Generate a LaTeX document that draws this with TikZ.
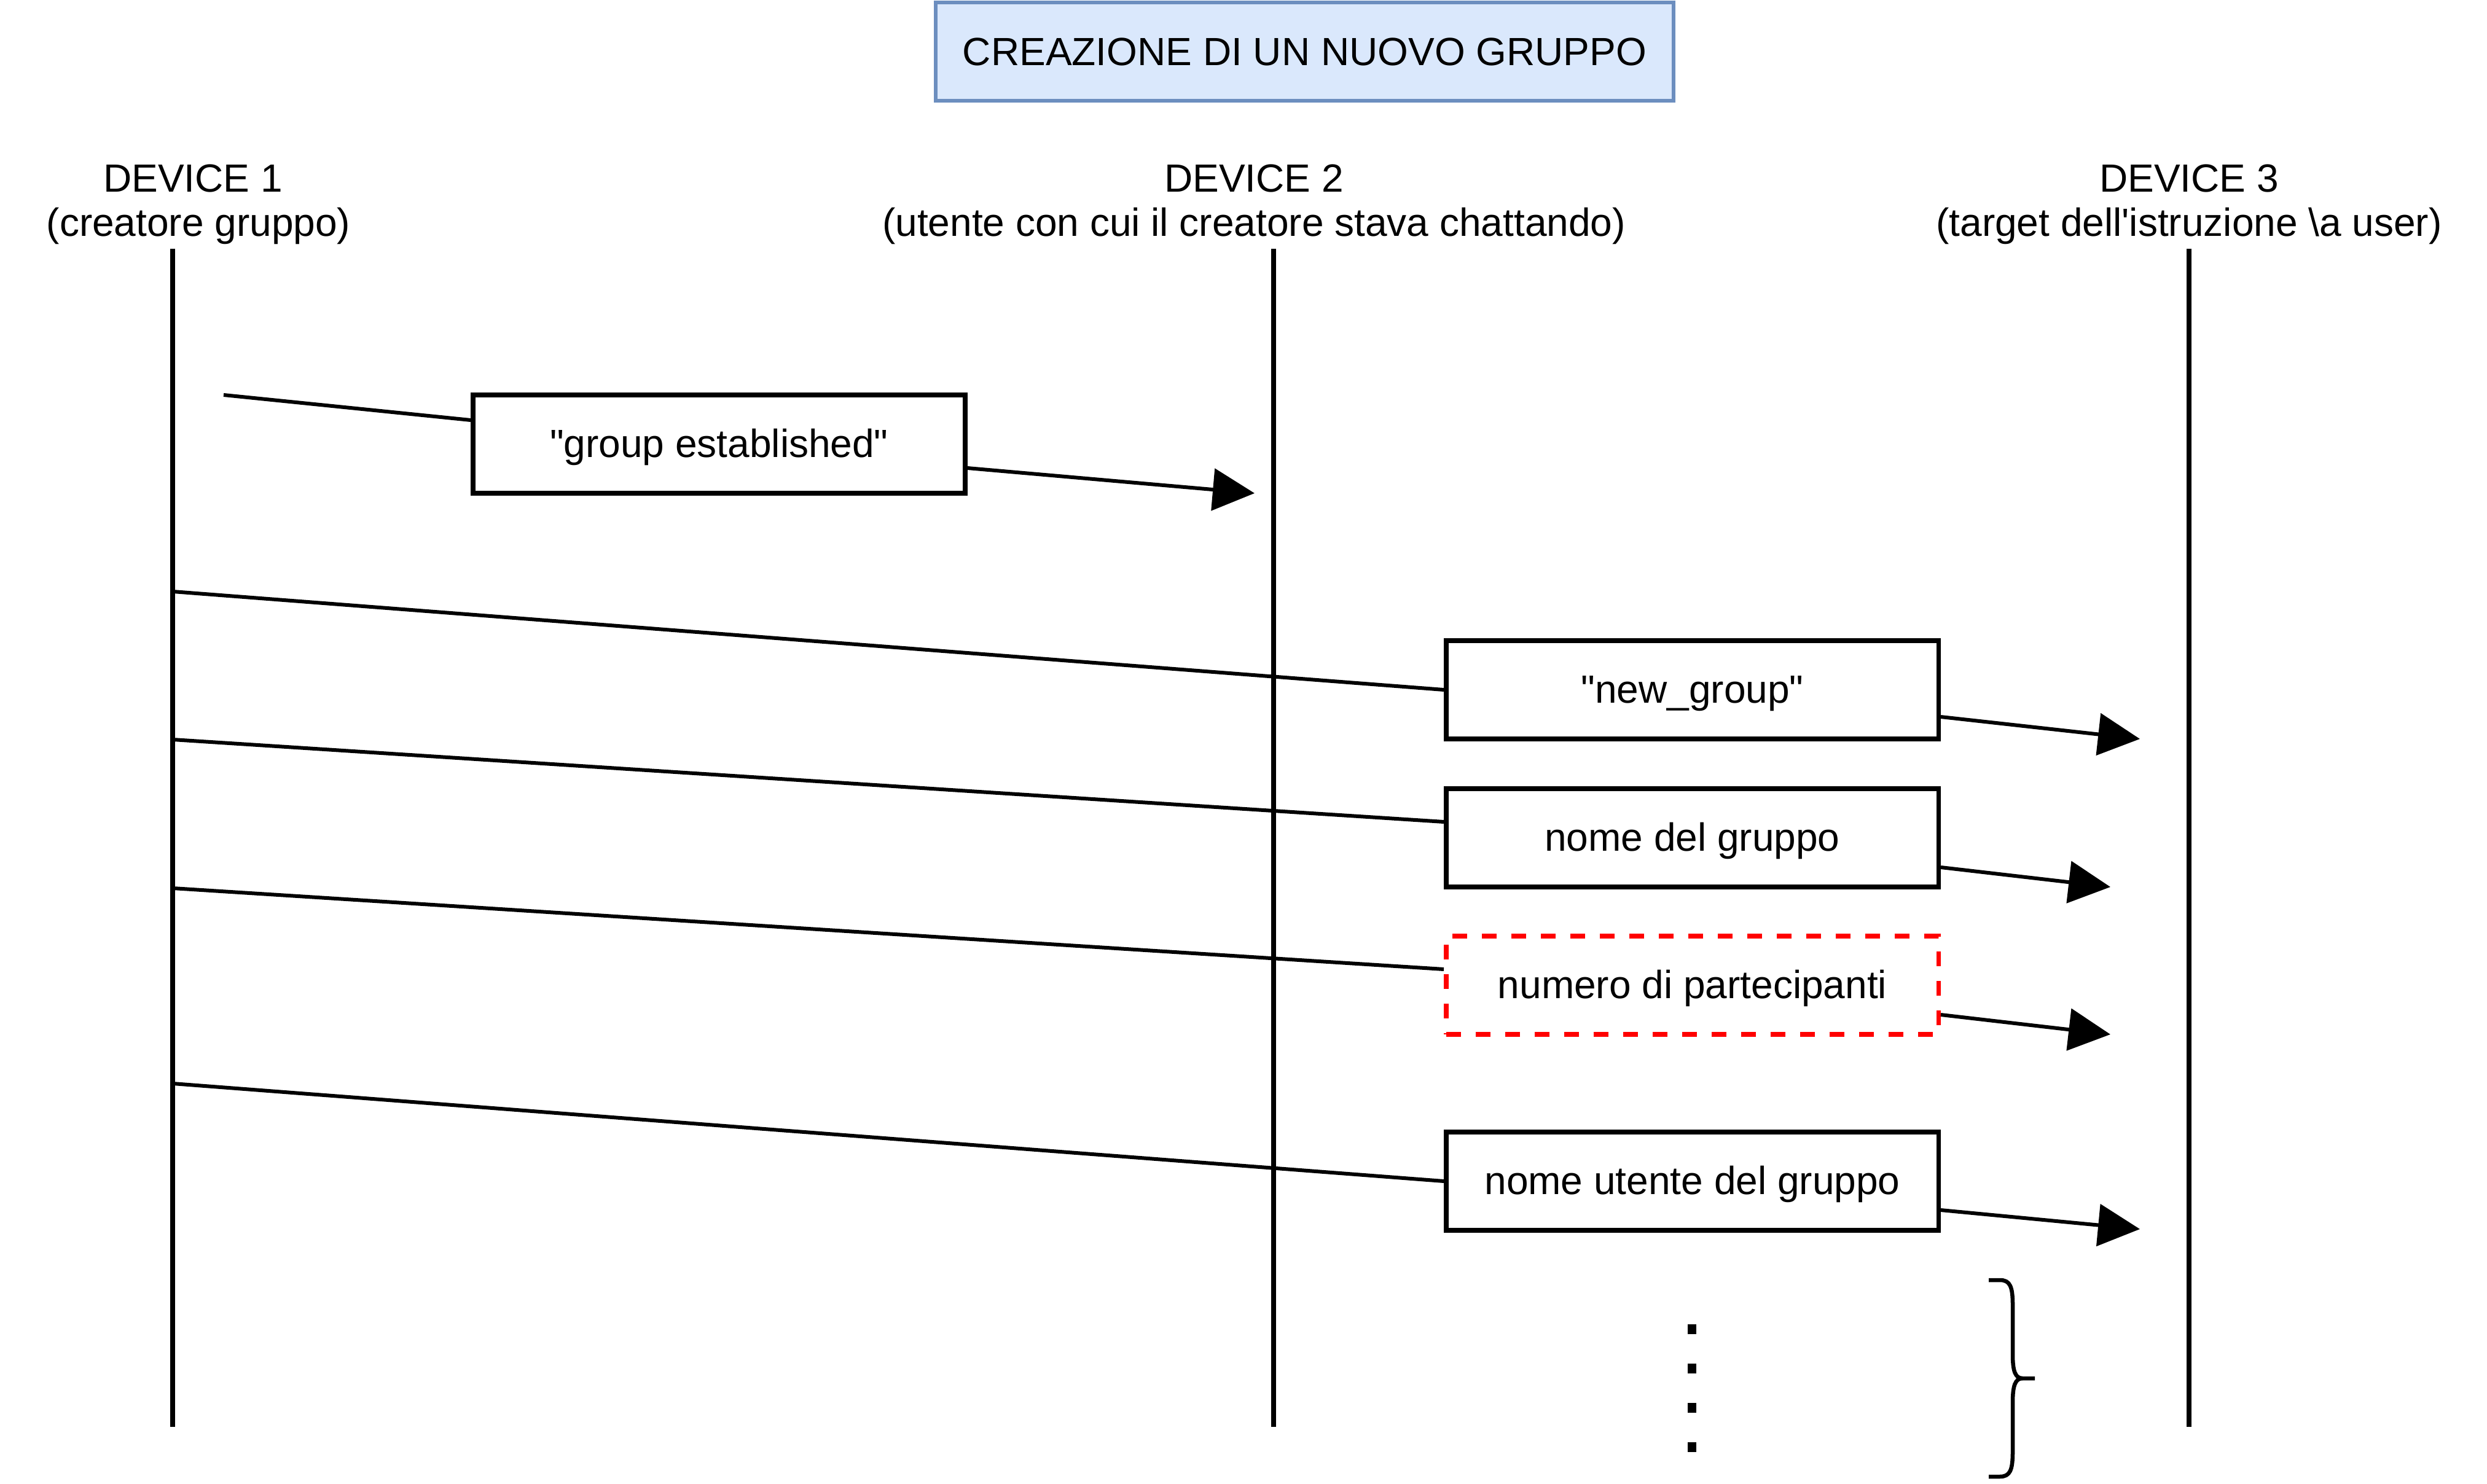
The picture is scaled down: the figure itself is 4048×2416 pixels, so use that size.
\documentclass[tikz,border=0pt]{standalone}
\usepackage{fontspec}
\newfontfamily\lsans{Liberation Sans}
\usetikzlibrary{arrows.meta}
\definecolor{titlefill}{HTML}{DAE8FC}
\definecolor{titledraw}{HTML}{6C8EBF}
\definecolor{dashred}{HTML}{FF0000}
\begin{document}
\begin{tikzpicture}[x=0.01cm,y=-0.01cm,
  every node/.style={font=\lsans\fontsize{18.2}{20.5}\selectfont},
  lifeline/.style={line width=0.08cm},
  msgline/.style={line width=0.06cm},
  msgarrow/.style={line width=0.06cm,-{Triangle[length=0.68cm,width=0.68cm]}},
  msgbox/.style={draw,line width=0.075cm,fill=white,minimum width=8.01cm,minimum height=1.6cm,inner sep=0pt,text height=13.65pt,text depth=1.64pt},
  optbox/.style={msgbox,draw=dashred,dash pattern=on 0.24cm off 0.24cm},
  titlebox/.style={draw=titledraw,fill=titlefill,line width=0.06cm,minimum width=12.01cm,minimum height=1.6cm,inner sep=0pt},
  header/.style={align=center,inner sep=0pt},
  bracestyle/.style={line width=0.065cm},
  dotstyle/.style={fill=black}
]
\path[use as bounding box] (0,0) rectangle (4048,2416);

% title
\node[titlebox] (title) at (2123.5,84) {CREAZIONE DI UN NUOVO GRUPPO};

% headers
\node[header] (h1) at (323,333) {DEVICE 1\hspace*{0.28em}\\(creatore gruppo)};
\node[header] (h2) at (2041,333) {DEVICE 2\\(utente con cui il creatore stava chattando)};
\node[header] (h3) at (3563,333) {DEVICE 3\\(target dell'istruzione \textbackslash a user)};

% lifelines
\coordinate (d1top) at (281,405);
\coordinate (d1bot) at (281,2323);
\coordinate (d2top) at (2073,405);
\coordinate (d2bot) at (2073,2323);
\coordinate (d3top) at (3563,405);
\coordinate (d3bot) at (3563,2323);
\draw[lifeline] (d1top) -- (d1bot);
\draw[lifeline] (d2top) -- (d2bot);
\draw[lifeline] (d3top) -- (d3bot);

% message endpoints
\coordinate (s1) at (364,643);
\coordinate (t1) at (2042,803);
\coordinate (s2) at (281,963);
\coordinate (t2) at (3483,1203);
\coordinate (s3) at (281,1204);
\coordinate (t3) at (3435,1444);
\coordinate (s4) at (281,1446);
\coordinate (t4) at (3435,1684);
\coordinate (s5) at (281,1764);
\coordinate (t5) at (3483,2001);

% message boxes
\node[msgbox] (b1) at (1170.5,723) {"group established"};
\node[msgbox] (b2) at (2754.5,1123) {"new\_group"};
\node[msgbox] (b3) at (2754.5,1364) {nome del gruppo};
\node[optbox] (b4) at (2754.5,1604) {numero di partecipanti};
\node[msgbox] (b5) at (2754.5,1923) {nome utente del gruppo};

% connectors
\draw[msgline] (s1) -- ([yshift=0.39cm]b1.west);
\draw[msgarrow] ([yshift=-0.39cm]b1.east) -- (t1);
\draw[msgline] (s2) -- (b2.west);
\draw[msgarrow] ([yshift=-0.44cm]b2.east) -- (t2);
\draw[msgline] (s3) -- ([yshift=0.26cm]b3.west);
\draw[msgarrow] ([yshift=-0.48cm]b3.east) -- (t3);
\draw[msgline] (s4) -- ([yshift=0.26cm]b4.west);
\draw[msgarrow] ([yshift=-0.48cm]b4.east) -- (t4);
\draw[msgline] (s5) -- (b5.west);
\draw[msgarrow] ([yshift=-0.47cm]b5.east) -- (t5);

% vertical ellipsis
\fill[dotstyle] (2747,2156) rectangle (2761,2172);
\fill[dotstyle] (2747,2220) rectangle (2761,2236);
\fill[dotstyle] (2747,2284) rectangle (2761,2300);
\fill[dotstyle] (2747,2348) rectangle (2761,2364);

% brace
\draw[bracestyle] (3237,2084) -- (3255,2084)
  .. controls (3272,2084) and (3276,2095) .. (3276,2125) -- (3276,2205)
  .. controls (3276,2232) and (3280,2244) .. (3292,2244) -- (3312,2244);
\draw[bracestyle] (3292,2244)
  .. controls (3280,2244) and (3276,2256) .. (3276,2283) -- (3276,2363)
  .. controls (3276,2393) and (3272,2404) .. (3255,2404) -- (3237,2404);
\end{tikzpicture}
\end{document}
